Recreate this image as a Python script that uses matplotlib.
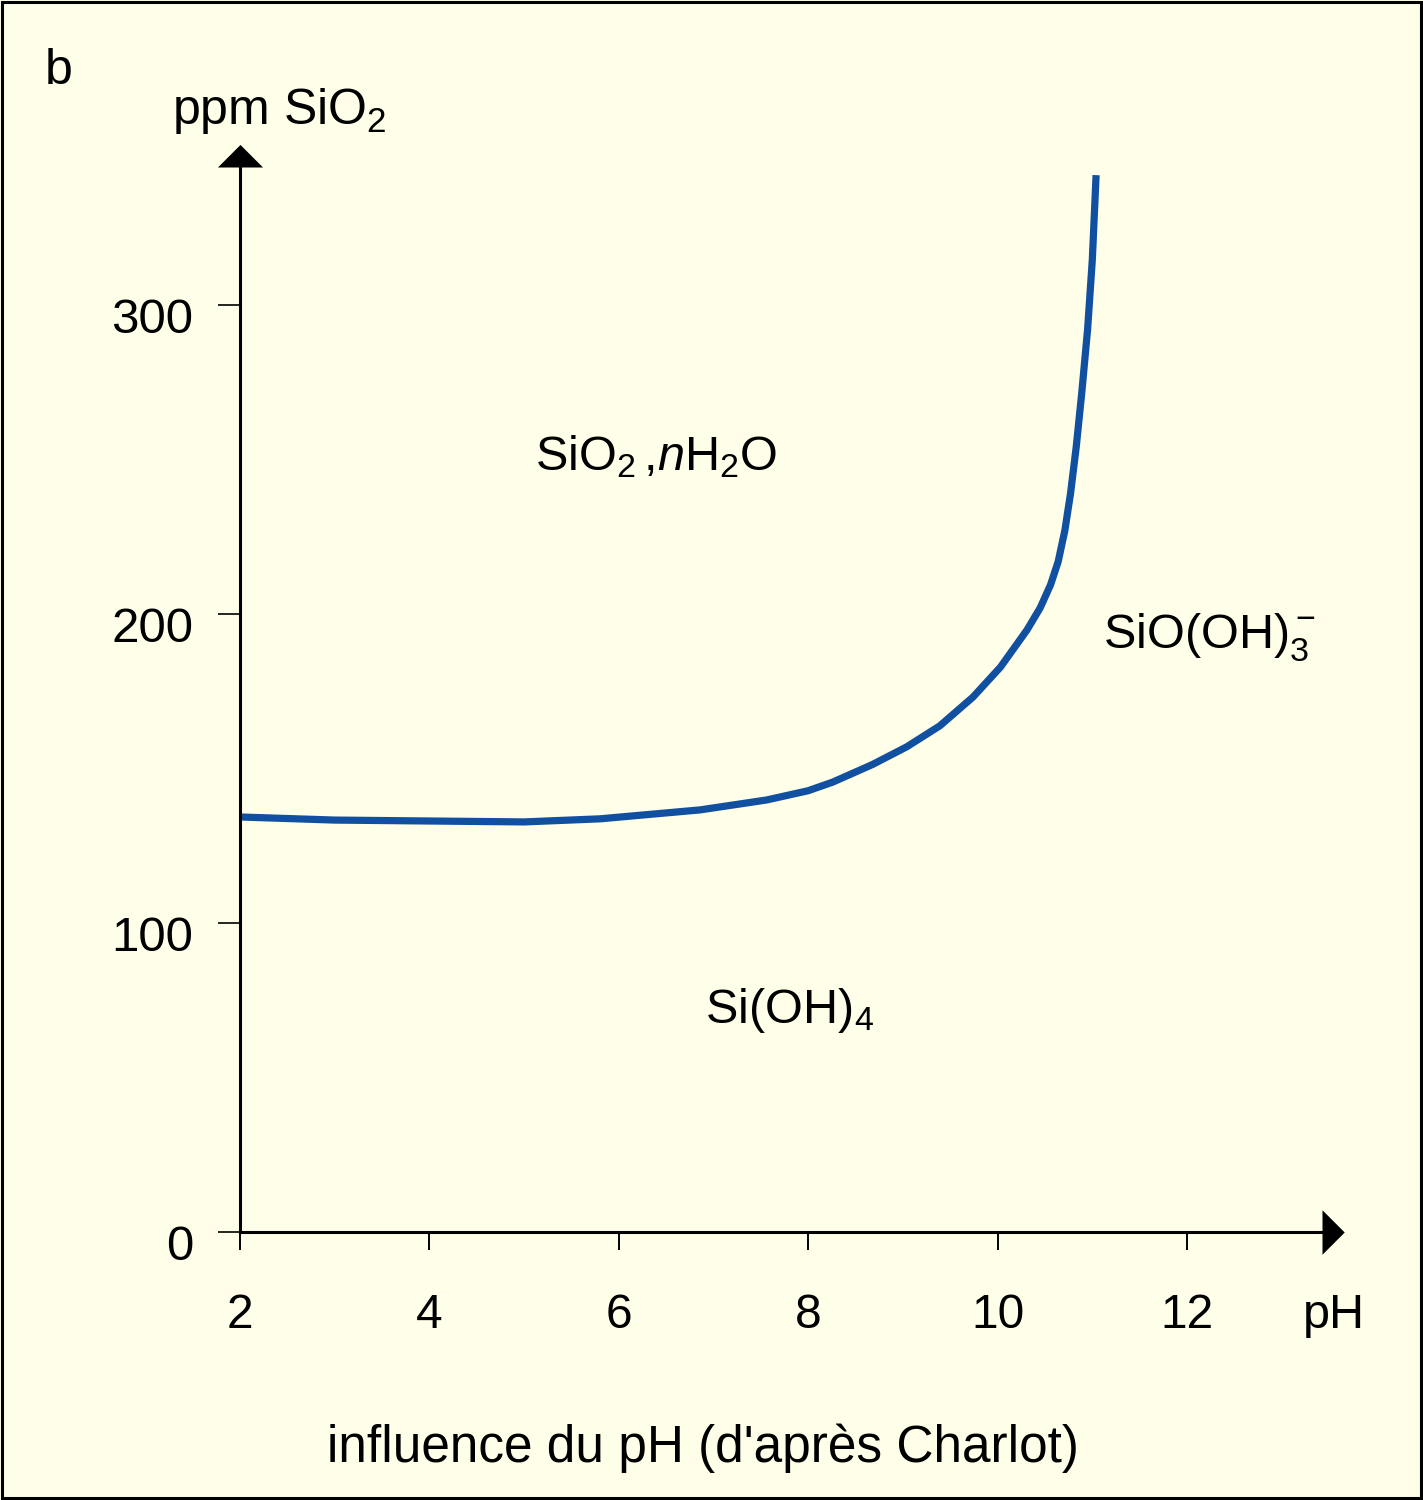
import matplotlib
matplotlib.use("Agg")
import matplotlib.pyplot as plt
from matplotlib.patches import Rectangle

plt.rcParams["font.family"] = ["Liberation Sans", "DejaVu Sans"]
plt.rcParams["mathtext.fontset"] = "custom"
plt.rcParams["mathtext.rm"] = "Liberation Sans"
plt.rcParams["mathtext.it"] = "Liberation Sans:italic"
plt.rcParams["mathtext.bf"] = "Liberation Sans:bold"

# solubility of silica vs pH
ph = [2.0, 3.0, 4.0, 5.0, 5.8, 6.86, 7.56, 8.0, 8.26, 8.68, 9.04, 9.39, 9.74,
      10.03, 10.31, 10.45, 10.56, 10.64, 10.71, 10.77, 10.83, 10.89, 10.95, 11.0, 11.04]
ppm = [134.3, 133.3, 133.0, 132.7, 133.7, 136.6, 139.8, 142.8, 145.6, 151.3, 157.0,
       163.8, 173.1, 182.8, 194.8, 202.0, 209.5, 217.0, 227.0, 239.0, 254.0, 272.0,
       292.0, 314.6, 342.0]

xticks = [2, 4, 6, 8, 10, 12]
yticks = [0, 100, 200, 300]

bg = "#FFFFE9"
blue = "#1150A0"

fig = plt.figure(figsize=(14.23, 15.0), dpi=100)
fig.patch.set_facecolor(bg)
fig.patches.append(Rectangle((0.0015, 0.0015), 0.997, 0.997, transform=fig.transFigure,
                             fill=False, edgecolor="black", linewidth=2.2))

ax = fig.add_axes([240 / 1423, 268 / 1500, 1108 / 1423, 1089 / 1500])
ax.set_facecolor(bg)
ax.set_xlim(2, 13.7)
ax.set_ylim(0, 352.4)

for s in ["top", "right"]:
    ax.spines[s].set_visible(False)
ax.spines["left"].set_bounds(0, 344.7)
ax.spines["bottom"].set_bounds(2, 13.43)
ax.spines["left"].set_linewidth(2.2)
ax.spines["bottom"].set_linewidth(2.2)

ax.set_xticks(xticks)
ax.set_yticks(yticks)
ax.tick_params(axis="x", direction="out", length=13, width=1.4, labelbottom=False)
ax.tick_params(axis="y", direction="out", length=16, width=1.2, labelleft=False)

# arrow heads
ax.plot([2], [344.7], marker=[(-1, 0), (1, 0), (0, 1), (-1, 0)], markersize=32.5,
        color="black", mew=0, clip_on=False)
ax.plot([13.43], [0], marker=[(0, -1), (0, 1), (1, 0), (0, -1)], markersize=32,
        color="black", mew=0, clip_on=False)

for v in yticks:
    ax.annotate(str(v), xy=(2, v), xytext=(-47, -28), textcoords="offset pixels",
                ha="right", va="baseline", fontsize=35.5, annotation_clip=False)
for v in xticks:
    ax.annotate(str(v), xy=(v, 0), xytext=(0, -96), textcoords="offset pixels",
                ha="center", va="baseline", fontsize=34.5, annotation_clip=False)

ax.plot(ph, ppm, color=blue, linewidth=5.2, solid_capstyle="butt",
        solid_joinstyle="round", clip_on=False)

ax.text(6.39, 250.8, r"SiO$_2\,$,$\mathit{n}$H$_2$O", fontsize=35, ha="center", va="center")
ax.text(12.24, 192.5, r"SiO(OH)$_3^-$", fontsize=35, ha="center", va="center")
ax.text(7.8, 71.8, r"Si(OH)$_4$", fontsize=35, ha="center", va="center")

fig.text(45 / 1423, 1 - 84 / 1500, "b", fontsize=36, ha="left", va="baseline")
fig.text(172 / 1423, 1 - 124 / 1500, r"ppm SiO$_2$", fontsize=36, ha="left", va="baseline")
fig.text(1303 / 1423, 1 - 1328 / 1500, "pH", fontsize=35, ha="left", va="baseline")
fig.text(703 / 1423, 1 - 1448 / 1500, "influence du pH (d'après Charlot)", fontsize=37,
         ha="center", va="center")

fig.savefig("out.png", dpi=100, facecolor=bg)
